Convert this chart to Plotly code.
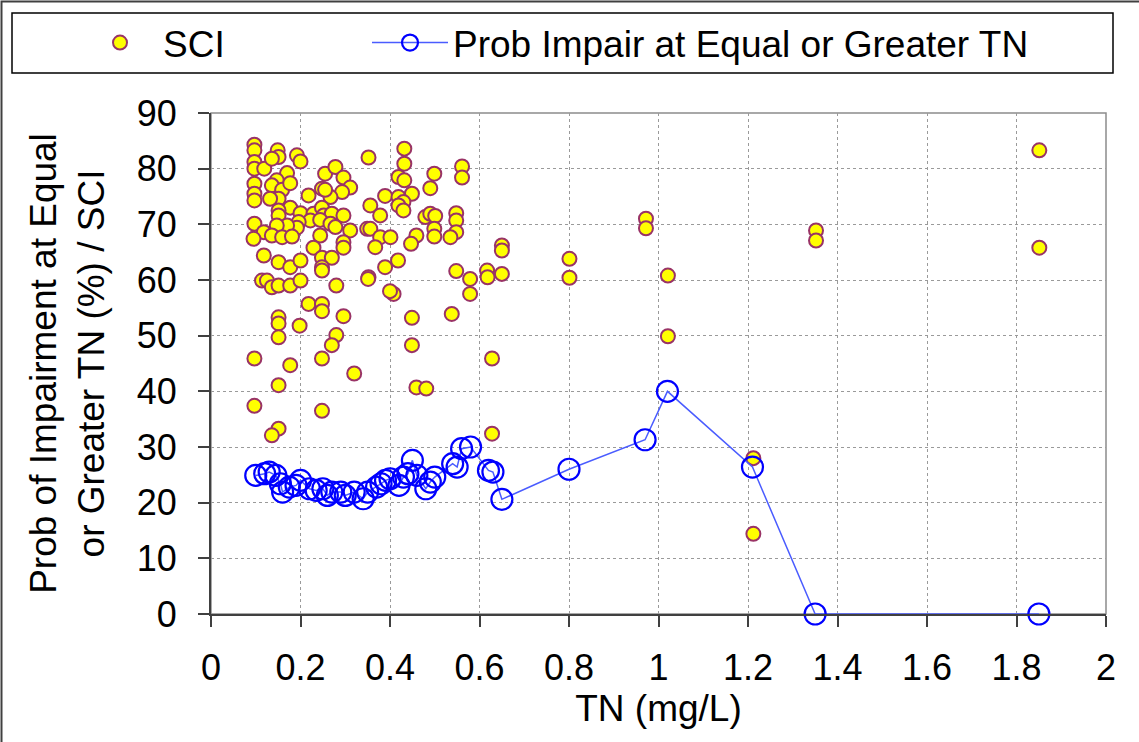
import plotly.graph_objects as go

# ---- data: SCI scatter (TN mg/L, SCI) ----
sci_tn = [
    0.097, 0.097, 0.097, 0.097, 0.119, 0.149, 0.151, 0.136, 0.192, 0.200,
    0.352, 0.170, 0.255, 0.278, 0.296, 0.311, 0.293, 0.267, 0.248, 0.255,
    0.097, 0.097, 0.097, 0.147, 0.136, 0.159, 0.177, 0.151, 0.132, 0.218,
    0.177, 0.200, 0.151, 0.151, 0.229, 0.248, 0.252, 0.270, 0.296, 0.222,
    0.244, 0.267, 0.278, 0.196, 0.192, 0.170, 0.147, 0.097, 0.118, 0.136,
    0.159, 0.181, 0.095, 0.311, 0.349, 0.244, 0.296, 0.296, 0.229, 0.248,
    0.270, 0.248, 0.118, 0.151, 0.177, 0.200, 0.352,
    0.114, 0.125, 0.136, 0.151, 0.177, 0.200, 0.248, 0.280, 0.351, 0.218,
    0.248, 0.248, 0.296, 0.151, 0.151, 0.198, 0.151, 0.280, 0.270, 0.097,
    0.177, 0.248, 0.320, 0.151, 0.097, 0.248, 0.151, 0.136,
    0.432, 0.432, 0.561, 0.561, 0.499, 0.419, 0.432, 0.490, 0.389, 0.449,
    0.419, 0.430, 0.419, 0.430, 0.356, 0.378, 0.479, 0.490, 0.501, 0.548,
    0.548, 0.356, 0.378, 0.401, 0.499, 0.499, 0.548, 0.535, 0.459, 0.447,
    0.367, 0.418, 0.389, 0.548, 0.579, 0.617, 0.650, 0.618, 0.650, 0.650,
    0.579, 0.408, 0.400, 0.449, 0.538, 0.449, 0.628, 0.459, 0.481, 0.628,
    0.801, 0.801, 0.972, 0.972, 1.021, 1.021, 1.212, 1.212, 1.352, 1.352,
    1.851, 1.851,
]
sci_val = [
    84.3, 83.3, 81.2, 80.0, 80.0, 83.3, 82.1, 81.8, 82.4, 81.3,
    82.0, 79.2, 79.1, 80.3, 78.4, 76.6, 75.8, 74.9, 76.4, 76.2,
    77.3, 75.5, 74.3, 77.9, 77.0, 76.2, 77.4, 74.6, 74.6, 75.2,
    73.0, 72.0, 72.5, 71.6, 71.9, 73.0, 71.6, 71.9, 71.6, 70.7,
    70.8, 70.1, 69.5, 70.4, 69.4, 69.8, 69.8, 70.1, 68.6, 68.0,
    67.7, 67.8, 67.4, 68.9, 69.2, 68.0, 66.8, 65.8, 65.8, 64.0,
    64.0, 62.3, 64.4, 63.2, 62.3, 63.5, 60.5,
    59.9, 59.9, 58.7, 59.0, 59.0, 59.9, 61.7, 59.0, 60.2, 55.7,
    55.7, 54.4, 53.5, 53.3, 52.2, 51.8, 49.7, 50.1, 48.3, 45.9,
    44.7, 45.9, 43.2, 41.1, 37.4, 36.5, 33.3, 32.1,
    83.6, 80.9, 80.4, 78.4, 79.1, 78.5, 77.9, 76.5, 75.1, 75.5,
    74.9, 74.0, 73.4, 72.5, 73.4, 71.6, 71.3, 71.9, 71.5, 72.0,
    70.7, 69.2, 67.7, 67.7, 69.2, 67.8, 68.6, 67.7, 68.0, 66.5,
    65.9, 63.5, 62.3, 61.6, 60.2, 61.7, 61.1, 60.5, 66.2, 65.3,
    57.5, 57.5, 58.0, 53.2, 53.9, 48.3, 45.9, 40.7, 40.5, 32.4,
    63.8, 60.4, 71.0, 69.3, 60.8, 49.9, 28.0, 14.4, 68.9, 67.1,
    83.3, 65.8,
]

# ---- data: probability of impairment at equal or greater TN ----
prob_tn = [
    0.10, 0.12, 0.13, 0.145, 0.155, 0.16, 0.175, 0.19, 0.20, 0.22,
    0.235, 0.25, 0.26, 0.27, 0.29, 0.30, 0.32, 0.34, 0.35, 0.37,
    0.38, 0.39, 0.40, 0.42, 0.43, 0.44, 0.45, 0.46, 0.48, 0.49,
    0.50, 0.54, 0.55, 0.56, 0.58, 0.62, 0.63, 0.65, 0.80, 0.97,
    1.02, 1.21, 1.35, 1.85,
]
prob_val = [
    24.9, 25.2, 25.5, 24.9, 23.4, 21.9, 22.8, 23.1, 24.0, 22.5,
    22.2, 22.5, 21.3, 21.9, 21.9, 21.3, 21.9, 20.7, 21.9, 22.8,
    23.4, 24.0, 24.3, 23.1, 24.6, 25.2, 27.6, 24.9, 22.5, 23.7,
    24.6, 27.0, 26.4, 29.7, 30.0, 25.8, 25.5, 20.6, 26.0, 31.3,
    40.0, 26.4, 0.0, 0.0,
]

FONT = "Liberation Sans, Arial, sans-serif"
FS_TICK = 36
FS_TITLE = 37

fig = go.Figure()
fig.add_trace(go.Scatter(
    x=sci_tn, y=sci_val, mode="markers", name="SCI",
    marker=dict(symbol="circle", size=14, color="#FFFF00",
                line=dict(color="#993366", width=2)),
    legendwidth=199,
))
fig.add_trace(go.Scatter(
    x=prob_tn, y=prob_val, mode="lines+markers",
    name="Prob Impair at Equal or Greater TN",
    line=dict(color="#4a5cff", width=1.5),
    marker=dict(symbol="circle-open", size=21, color="#0000FF",
                line=dict(color="#0000FF", width=2.2)),
    cliponaxis=False,
    legendwidth=640,
))

L, R, T, B = 211, 33, 113, 128
W, H = 1139, 742
pw, ph = W - L - R, H - T - B

def px_x(p):
    return (p - L) / pw

def px_y(p):
    return (H - B - p) / ph

axis_common = dict(
    showgrid=True, gridcolor="#9a9a9a", griddash="dot", gridwidth=1,
    showline=True, linecolor="#404040", linewidth=2,
    ticks="outside", ticklen=11, tickwidth=2, tickcolor="#404040",
    zeroline=False, tickfont=dict(family=FONT, size=FS_TICK, color="black"),
)

fig.update_layout(
    width=W, height=H,
    margin=dict(l=L, r=R, t=T, b=B, autoexpand=False),
    paper_bgcolor="white", plot_bgcolor="white",
    font=dict(family=FONT, size=FS_TICK, color="black"),
    xaxis=dict(range=[0, 2], dtick=0.2, tick0=0,
               title=dict(text="TN (mg/L)", font=dict(family=FONT, size=FS_TITLE), standoff=6),
               ticklabelstandoff=10, **axis_common),
    yaxis=dict(range=[0, 90], dtick=10, tick0=0,
               title=dict(text="Prob of Impairment at Equal<br>or Greater TN (%) / SCI",
                          font=dict(family=FONT, size=FS_TITLE), standoff=21),
               ticklabelstandoff=14, **axis_common),
    showlegend=True,
    legend=dict(orientation="h", x=px_x(77), xanchor="left",
                y=px_y(43), yanchor="middle", itemwidth=76,
                font=dict(family=FONT, size=FS_TITLE, color="black"),
                bgcolor="rgba(0,0,0,0)", borderwidth=0),
    shapes=[
        # plot-area frame (top/right in gray)
        dict(type="rect", xref="paper", yref="paper", x0=0, x1=1, y0=0, y1=1,
             line=dict(color="#8c8c8c", width=1.5), layer="below"),
        # legend box
        dict(type="rect", xref="paper", yref="paper",
             x0=px_x(12), x1=px_x(1113), y0=px_y(73), y1=px_y(13),
             line=dict(color="black", width=1.5)),
        # outer chart border
        dict(type="rect", xref="paper", yref="paper",
             x0=px_x(1.5), x1=px_x(1160), y0=px_y(760), y1=px_y(1.5),
             line=dict(color="#404040", width=2)),
    ],
)

fig.write_html("out.html")
